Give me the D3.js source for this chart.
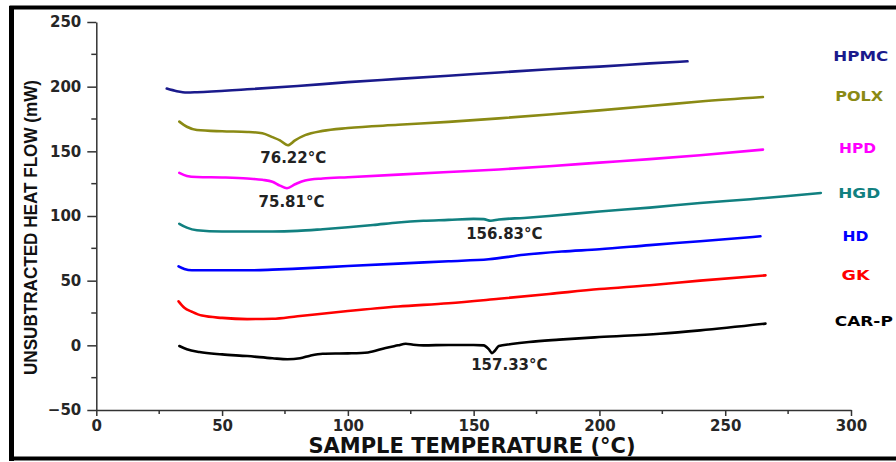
<!DOCTYPE html>
<html><head><meta charset="utf-8">
<script src="https://cdn.jsdelivr.net/npm/d3@7"></script>
<style>html,body{margin:0;padding:0;background:#fff;}svg{display:block;}</style>
</head><body>
<script>
// ---- data ----
const xTicks = [0, 50, 100, 150, 200, 250, 300];
const yTicks = [-50, 0, 50, 100, 150, 200, 250];
const seriesNames = ["HPMC", "POLX", "HPD", "HGD", "HD", "GK", "CAR-P"];
const seriesColors = ["#1a1a8c", "#8a8a14", "#ff00ff", "#118080", "#0000ff", "#ff0000", "#000000"];

const hpmcT = [28, 32, 36, 40, 60, 80, 100, 120, 140, 160, 180, 200, 220, 235];
const hpmcV = [198.5, 196.5, 195.5, 195.7, 198, 200.5, 203.5, 206, 208.5, 211, 213.5, 215.5, 218, 219.6];

const polxT = [33, 36, 40, 50, 60, 66, 70, 73, 76.2, 79, 83, 90, 100, 120, 140, 160, 180, 200, 220, 240, 265];
const polxV = [173, 169, 166.5, 165.5, 165, 164, 161, 158.5, 154.7, 158.5, 162.5, 165.8, 168, 170.5, 172.8, 175.5, 178.5, 181.7, 185, 188.5, 192];

const hpdT = [33, 36, 40, 50, 60, 66, 70, 73, 75.8, 79, 83, 90, 100, 120, 140, 160, 180, 200, 220, 240, 265];
const hpdV = [133.3, 131, 130.2, 129.8, 129, 128, 126.5, 123.5, 121.5, 124.5, 127.5, 129, 130, 132, 134, 136, 138.5, 141.3, 144, 147, 151.3];

const hgdT = [33, 36, 40, 50, 60, 70, 80, 90, 100, 110, 120, 130, 140, 150, 154, 156.8, 160, 170, 180, 200, 220, 240, 260, 275, 288];
const hgdV = [94, 91, 89, 88, 88, 88, 88.5, 89.8, 91.3, 93, 95, 96.3, 97, 97.8, 97.6, 96.3, 97.3, 98.5, 100, 103.5, 106.5, 110, 113, 115.5, 117.8];

const hdT = [32.7, 35, 38, 50, 60, 70, 80, 100, 120, 140, 156, 170, 185, 200, 220, 240, 264];
const hdV = [61, 59, 58, 58, 58, 58.5, 59.3, 61.3, 63.2, 65, 66.5, 70, 72.5, 74.3, 77.5, 80.5, 84.3];

const gkT = [32.7, 35, 38, 42, 50, 60, 70, 80, 100, 120, 140, 160, 180, 200, 220, 240, 266];
const gkV = [34, 29, 26, 23, 21.2, 20.3, 20.5, 22.5, 26.5, 30, 32.5, 36, 39.7, 43.5, 46.5, 50, 54.1];

const carpT = [33, 36, 41, 50, 60, 70, 76, 81, 85, 90, 100, 108, 115, 120, 123, 126, 130, 140, 150, 154, 156, 157.3, 158.5, 160, 165, 172, 184, 200, 224, 240, 266];
const carpV = [-0.5, -3, -5.2, -7, -8.3, -10, -10.8, -10, -8, -6.5, -6.2, -5.5, -2, 0, 1.2, 0.5, 0, 0.3, 0.2, 0, -3, -6, -4, -0.5, 1, 2.6, 4.4, 6.4, 9, 11.6, 16.8];

const seriesT = [hpmcT, polxT, hpdT, hgdT, hdT, gkT, carpT];
const seriesV = [hpmcV, polxV, hpdV, hgdV, hdV, gkV, carpV];

const annotTexts = ["76.22°C", "75.81°C", "156.83°C", "157.33°C"];
const annotT = [78.3, 77.6, 162.2, 164.2];
const annotV = [145.5, 111, 86.6, -15];

// ---- drawing ----
const W = 896, H = 462;
const svg = d3.select("body").append("svg").attr("width", W).attr("height", H);

const x = d3.scaleLinear().domain([0, 300]).range([96.3, 851]);
const y = d3.scaleLinear().domain([-50, 250]).range([410, 22]);

// outer frame
svg.append("rect").attr("x", 11.5).attr("y", 7.5).attr("width", 900).attr("height", 451)
  .attr("fill", "none").attr("stroke", "#000").attr("stroke-width", 4);
svg.append("rect").attr("x", 9).attr("y", 6).attr("width", 5).attr("height", 455).attr("fill", "#000");

const fontMain = "'DejaVu Sans', sans-serif";
const tickColor = "#262626";

// y axis
const yAxis = d3.axisLeft(y).tickValues(yTicks).tickSize(9).tickSizeOuter(0).tickPadding(6);
const gy = svg.append("g").attr("transform", `translate(${x(0)},0)`).call(yAxis);
gy.selectAll("text").attr("font-family", fontMain).attr("font-weight", "bold").attr("font-size", 15).attr("fill", tickColor);
gy.selectAll("line").attr("stroke", "#333").attr("stroke-width", 1.5);
gy.select(".domain").attr("stroke", "#333").attr("stroke-width", 1.5);
const yMinor = d3.range(-25, 250, 50);
gy.selectAll(".minor").data(yMinor).enter().append("line").attr("class", "minor")
  .attr("x1", -5).attr("x2", 0).attr("y1", d => y(d)).attr("y2", d => y(d))
  .attr("stroke", "#333").attr("stroke-width", 1.5);

// x axis
const xAxis = d3.axisBottom(x).tickValues(xTicks).tickSize(6).tickSizeOuter(0).tickPadding(4);
const gx = svg.append("g").attr("transform", `translate(0,${y(-50)})`).call(xAxis);
gx.selectAll("text").attr("font-family", fontMain).attr("font-weight", "bold").attr("font-size", 15).attr("fill", tickColor);
gx.selectAll("line").attr("stroke", "#333").attr("stroke-width", 1.5);
gx.select(".domain").attr("stroke", "#333").attr("stroke-width", 1.5);
const xMinor = d3.range(25, 300, 50);
gx.selectAll(".minor").data(xMinor).enter().append("line").attr("class", "minor")
  .attr("x1", d => x(d)).attr("x2", d => x(d)).attr("y1", 0).attr("y2", 4)
  .attr("stroke", "#333").attr("stroke-width", 1.5);

// axis titles
svg.append("text").attr("x", 472).attr("y", 452.5).attr("text-anchor", "middle")
  .attr("font-family", fontMain).attr("font-weight", "bold").attr("font-size", 21).attr("fill", "#111")
  .text("SAMPLE TEMPERATURE (°C)");
svg.append("text").attr("transform", "translate(36.5,227.5) rotate(-90)").attr("text-anchor", "middle")
  .attr("font-family", "'Liberation Sans', Arial, sans-serif").attr("font-weight", "bold").attr("font-size", 19)
  .attr("textLength", 295).attr("lengthAdjust", "spacingAndGlyphs").attr("fill", "#111")
  .text("UNSUBTRACTED HEAT FLOW (mW)");

// curves
const line = d3.line().x(d => x(d[0])).y(d => y(d[1])).curve(d3.curveMonotoneX);
seriesNames.forEach((name, i) => {
  const pts = seriesT[i].map((t, j) => [t, seriesV[i][j]]);
  svg.append("path").datum(pts).attr("d", line).attr("fill", "none")
    .attr("stroke", seriesColors[i]).attr("stroke-width", 2.6)
    .attr("stroke-linejoin", "round").attr("stroke-linecap", "round");
});

// series labels
const labelX = [860.8, 859.2, 857.5, 859.2, 855.5, 855.5, 863.8];
const labelY = [55.8, 95.8, 147.8, 192.8, 236.2, 275.3, 321.3];
const labelW = [55, 48, 37, 42, 26, 28, 58];
seriesNames.forEach((name, i) => {
  svg.append("text").attr("x", labelX[i]).attr("y", labelY[i]).attr("dy", "0.36em")
    .attr("text-anchor", "middle").attr("font-family", fontMain).attr("font-weight", "bold")
    .attr("font-size", 13.5).attr("textLength", labelW[i]).attr("lengthAdjust", "spacingAndGlyphs")
    .attr("fill", seriesColors[i]).text(name);
});

// peak annotations
annotTexts.forEach((t, i) => {
  svg.append("text").attr("x", x(annotT[i])).attr("y", y(annotV[i])).attr("dy", "0.36em")
    .attr("text-anchor", "middle").attr("font-family", fontMain).attr("font-weight", "bold")
    .attr("font-size", 15).attr("fill", "#222").text(t);
});
</script>
</body></html>
